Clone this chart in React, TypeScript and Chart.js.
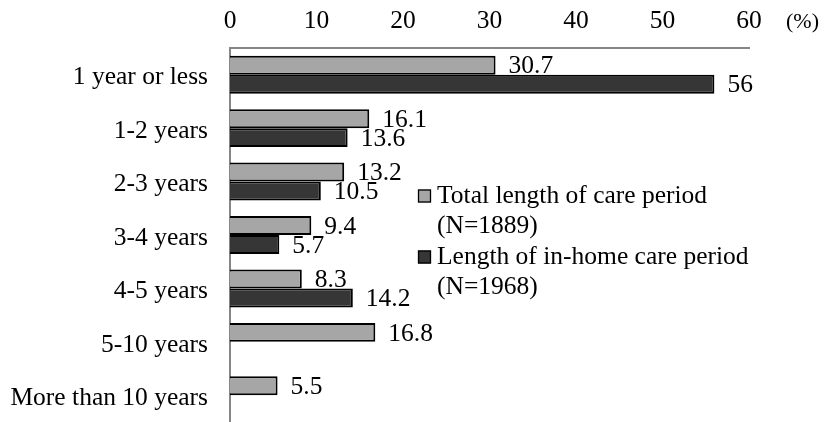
import React, { useEffect, useRef } from "react";
import { Chart, registerables } from "chart.js";

Chart.register(...registerables);

const categories = ["1 year or less", "1-2 years", "2-3 years", "3-4 years", "4-5 years", "5-10 years", "More than 10 years"];
const totalValues: (number | null)[] = [30.7, 16.1, 13.2, 9.4, 8.3, 16.8, 5.5];
const inHomeValues: (number | null)[] = [56, 13.6, 10.5, 5.7, 14.2, null, null];
const xTicks = [0, 10, 20, 30, 40, 50, 60];
const legendLines = [
  ["Total length of care period", "(N=1889)"],
  ["Length of in-home care period", "(N=1968)"],
];
const seriesNames = ["Total length of care period (N=1889)", "Length of in-home care period (N=1968)"];

const FONT = "'Liberation Serif', 'Times New Roman', serif";
const FS = 25.5;
const GRAY = "#a6a6a6";
const DARK = "#363636";

export default function App() {
  const ref = useRef<HTMLCanvasElement | null>(null);
  useEffect(() => {
    document.body.style.margin = "0";
    const canvas = ref.current!;
    const overlay = {
      id: "overlay",
      afterDatasetsDraw(chart: any) {
        const ctx = chart.ctx as CanvasRenderingContext2D;
        ctx.save();
        ctx.font = `${FS}px ${FONT}`;
        ctx.fillStyle = "#000";
        ctx.textAlign = "left";
        ctx.textBaseline = "middle";
        chart.data.datasets.forEach((ds: any, di: number) => {
          const meta = chart.getDatasetMeta(di);
          meta.data.forEach((el: any, i: number) => {
            const v = ds.data[i];
            if (v === null || v === undefined) return;
            ctx.fillText(String(v), el.x + 13, el.y + 1.5);
          });
        });
        // (%) unit label
        const xs = chart.scales.x;
        ctx.font = `22px ${FONT}`;
        ctx.fillText("(%)", xs.right + 37, 22);
        ctx.font = `${FS}px ${FONT}`;
        // legend
        const colors = [GRAY, DARK];
        const lx = 418;
        const ly = [196, 257];
        legendLines.forEach((lines, k) => {
          ctx.fillStyle = colors[k];
          ctx.fillRect(lx, ly[k] - 6.5, 13, 13);
          ctx.strokeStyle = "#000";
          ctx.lineWidth = 1.3;
          ctx.strokeRect(lx + 0.5, ly[k] - 6, 12, 12);
          ctx.fillStyle = "#000";
          lines.forEach((t, j) => ctx.fillText(t, 437, ly[k] + j * 30));
        });
        ctx.restore();
      },
    };
    const chart = new Chart(canvas, {
      type: "bar",
      data: {
        labels: categories,
        datasets: [
          {
            label: seriesNames[0],
            data: totalValues,
            backgroundColor: GRAY,
            borderColor: "#000",
            borderWidth: 2,
            categoryPercentage: 0.71,
            barPercentage: 1,
          },
          {
            label: seriesNames[1],
            data: inHomeValues,
            backgroundColor: DARK,
            borderColor: "#000",
            borderWidth: 2,
            categoryPercentage: 0.71,
            barPercentage: 1,
          },
        ],
      },
      options: {
        indexAxis: "y",
        animation: false,
        responsive: false,
        devicePixelRatio: 1,
        layout: { padding: { left: 0, right: 77, top: 0, bottom: 0 } },
        plugins: { legend: { display: false }, tooltip: { enabled: false } },
        scales: {
          x: {
            position: "top",
            min: 0,
            max: 60,
            afterBuildTicks: (s: any) => {
              s.ticks = xTicks.map((v) => ({ value: v }));
            },
            afterFit: (s: any) => {
              s.height = 48;
              s.paddingLeft = 0;
              s.paddingRight = 0;
            },
            grid: { display: false, drawTicks: false },
            border: { display: true, color: "#868686", width: 2 },
            ticks: {
              color: "#000",
              font: { family: FONT, size: FS },
              padding: 11,
              maxRotation: 0,
            },
          },
          y: {
            afterFit: (s: any) => {
              s.width = 230;
              s.paddingTop = 0;
              s.paddingBottom = 0;
            },
            grid: { display: false, drawTicks: false },
            border: { display: true, color: "#868686", width: 2 },
            ticks: {
              color: "#000",
              font: { family: FONT, size: FS },
              padding: 22,
              labelOffset: 3,
            },
          },
        },
      },
      plugins: [overlay],
    });
    return () => chart.destroy();
  }, []);
  return <canvas ref={ref} width={826} height={422} style={{ display: "block" }} />;
}
